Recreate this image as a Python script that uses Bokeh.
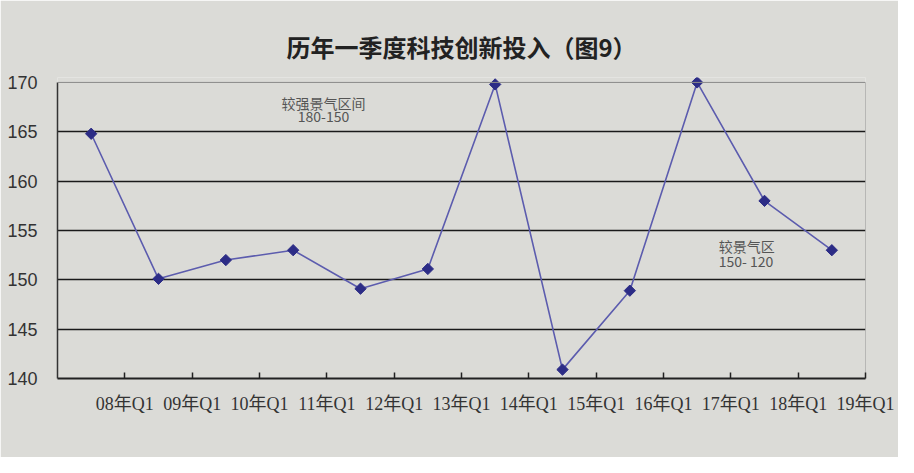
from bokeh.plotting import figure
from bokeh.models import Range1d, FixedTicker, Span, ColumnDataSource
from bokeh.core.properties import value
from bokeh.embed import file_html
from bokeh.resources import INLINE

categories = ["08年Q1", "09年Q1", "10年Q1", "11年Q1", "12年Q1", "13年Q1",
              "14年Q1", "15年Q1", "16年Q1", "17年Q1", "18年Q1", "19年Q1"]
values = [164.8, 150.1, 152.0, 153.0, 149.1, 151.1, 169.8, 140.9, 148.9, 170.0, 158.0, 153.0]
y_ticks = [140, 145, 150, 155, 160, 165, 170]
title_text = "历年一季度科技创新投入（图9）"
note1 = ["较强景气区间", "180-150"]
note2 = ["较景气区", "150- 120"]

BG = "#dbdbd7"
n = len(categories)
xs = [i + 0.5 for i in range(n)]

p = figure(width=898, height=457, output_backend="svg", toolbar_location=None,
           x_range=Range1d(0, n), y_range=Range1d(y_ticks[0], y_ticks[-1] + 0.5),
           min_border_left=57, min_border_right=33, min_border_top=77, min_border_bottom=79)
p.background_fill_color = BG
p.border_fill_color = BG
p.outline_line_color = None

p.title.text = title_text
p.title.align = "center"
p.title.text_font = "Noto Sans CJK SC"
p.title.text_font_size = "24px"
p.title.text_font_style = "bold"
p.title.text_color = "#222222"
p.title.standoff = 27

# y axis
p.yaxis.ticker = FixedTicker(ticks=y_ticks)
p.yaxis.bounds = (y_ticks[0], y_ticks[-1])
p.yaxis.major_tick_line_color = None
p.yaxis.minor_tick_line_color = None
p.yaxis.axis_line_color = "#333333"
p.yaxis.axis_line_width = 1.5
p.yaxis.major_label_text_font = "Liberation Sans"
p.yaxis.major_label_text_font_size = "18px"
p.yaxis.major_label_text_color = "#333333"
p.yaxis.major_label_standoff = 14

# x axis
p.xaxis.ticker = FixedTicker(ticks=[i + 1 for i in range(n)])
p.xaxis.major_label_overrides = {i + 1: c for i, c in enumerate(categories)}
p.xaxis.bounds = (0, n)
p.xaxis.major_tick_in = 6
p.xaxis.major_tick_out = 0
p.xaxis.major_tick_line_color = "#222222"
p.xaxis.major_tick_line_width = 1.5
p.xaxis.minor_tick_line_color = None
p.xaxis.axis_line_color = "#222222"
p.xaxis.axis_line_width = 1.8
p.xaxis.major_label_text_font = "'Liberation Serif', 'Noto Sans CJK SC'"
p.xaxis.major_label_text_font_size = "18px"
p.xaxis.major_label_text_color = "#333333"
p.xaxis.major_label_standoff = 15

p.xgrid.grid_line_color = None
p.ygrid.ticker = FixedTicker(ticks=y_ticks[1:-1])
p.ygrid.grid_line_color = "#1a1a1a"
p.ygrid.grid_line_width = 1.6

p.add_layout(Span(location=y_ticks[-1], dimension="width", line_color="#8a8a8a", line_width=1))
p.segment(x0=[n], y0=[y_ticks[0]], x1=[n], y1=[y_ticks[-1]], line_color="#8a8a8a", line_width=1)

src = ColumnDataSource(dict(x=xs, y=values))
p.line("x", "y", source=src, line_color="#5c5cae", line_width=1.6)
p.scatter("x", "y", source=src, marker="square", angle=0.785398, size=8,
          fill_color="#2c2c86", line_color="#2c2c86")

p.text(x=[3.95, 3.95], y=[167.9, 166.5], text=note1, text_align="center", text_baseline="middle",
       text_font=value("Noto Sans CJK SC"), text_font_size="14px", text_color="#555555")
p.text(x=[9.82, 9.82], y=[153.4, 151.9], text=note2, text_align="left", text_baseline="middle",
       text_font=value("Noto Sans CJK SC"), text_font_size="14px", text_color="#555555")

open("out.html", "w").write(file_html(p, INLINE))
